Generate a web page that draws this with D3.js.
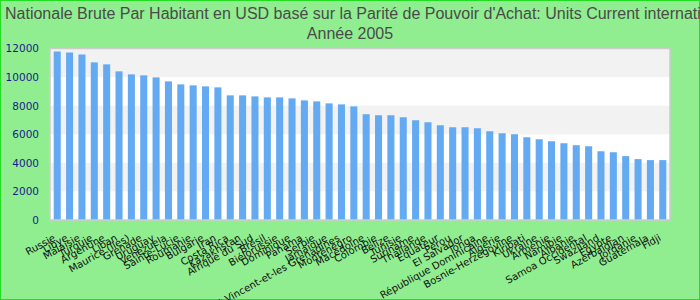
<!DOCTYPE html>
<html><head><meta charset="utf-8">
<script src="https://cdn.jsdelivr.net/npm/d3@7"></script>
<style>html,body{margin:0;padding:0;background:#90ee90;}svg{display:block;}</style>
</head><body>
<script>
const titleLines = ["Nationale Brute Par Habitant en USD basé sur la Parité de Pouvoir d'Achat: Units Current international $", "Année 2005"];
const countries = ["Russie","Libye","Malaisie","Turquie","Argentine","Liban","Maurice (Iles)","Grenade","Uruguay","Venezuela","Sainte-Lucie","Roumanie","Bulgarie","Iran","Costa Rica","Kazakhstan","Afrique du Sud","Brésil","Biélorussie","Dominique","Panama","Serbie","Jamaïque","Saint-Vincent-et-les Grenadines","Monténégro","Macédoine","Colombie","Belize","Tunisie","Suriname","Thaïlande","Equateur","Pérou","El Salvador","Tonga","République Dominicaine","Algérie","Bosnie-Herzégovine","Kiribati","Ukraine","Arménie","Namibie","Albanie","Samoa Occidental","Swaziland","Egypte","Azerbaïdjan","Jordanie","Guatemala","Fidji"];
const values = [11790,11720,11580,11030,10890,10400,10190,10120,9980,9700,9490,9420,9350,9280,8720,8720,8650,8580,8580,8510,8370,8300,8160,8090,7950,7400,7330,7330,7190,6980,6840,6630,6490,6490,6420,6210,6070,6000,5790,5650,5510,5370,5230,5160,4810,4740,4470,4260,4190,4190];
const yTicks = [0,2000,4000,6000,8000,10000,12000];

const W = 700, H = 300;
const svg = d3.select("body").append("svg").attr("width", W).attr("height", H);
svg.append("rect").attr("x",0.5).attr("y",0.5).attr("width",W-1).attr("height",H-1)
  .attr("fill","#90ee90").attr("stroke","#22dd22").attr("stroke-width",1);

const plot = {left:50, right:670, top:48.5, bottom:220};
const x = d3.scaleBand().domain(countries).range([plot.left, plot.right]).paddingInner(0.43).paddingOuter(0.3);
const y = d3.scaleLinear().domain([0,12000]).range([plot.bottom, plot.top]);

// background
svg.append("rect").attr("x",plot.left).attr("y",plot.top).attr("width",plot.right-plot.left)
  .attr("height",plot.bottom-plot.top).attr("fill","#ffffff");
const bands = d3.pairs(yTicks).filter((d,i)=> i%2===1);
svg.append("g").selectAll("rect").data(bands).join("rect")
  .attr("x",plot.left).attr("width",plot.right-plot.left)
  .attr("y",d=>y(d[1])).attr("height",d=>y(d[0])-y(d[1])).attr("fill","#f2f2f2");

// bars
svg.append("g").selectAll("rect").data(values).join("rect")
  .attr("x",(d,i)=>x(countries[i])).attr("width",x.bandwidth())
  .attr("y",d=>y(d)).attr("height",d=>y(0)-y(d)).attr("fill","#63aaf3");

// frame
svg.append("rect").attr("x",plot.left).attr("y",plot.top).attr("width",plot.right-plot.left)
  .attr("height",plot.bottom-plot.top).attr("fill","none").attr("stroke","#cccccc").attr("stroke-width",1.5);

// y axis
const yAxis = d3.axisLeft(y).tickValues(yTicks).tickSize(0).tickPadding(0).tickFormat(d3.format("d"));
const gy = svg.append("g").attr("transform",`translate(${plot.left-11},0)`).call(yAxis);
gy.select(".domain").remove();
gy.selectAll("text").attr("fill","#1a1a8f").style("font-family","'DejaVu Sans'").style("font-size","10.5px");

// x axis
const xAxis = d3.axisBottom(x).tickSize(0).tickPadding(0);
const gx = svg.append("g").attr("transform",`translate(0,${plot.bottom})`).call(xAxis);
gx.select(".domain").remove();
gx.selectAll("text").attr("fill","#111").style("font-family","'DejaVu Sans'").style("font-size","10px")
  .attr("text-anchor","end").attr("dy",null).attr("y",null)
  .attr("transform","translate(-1,20) rotate(-29)");

// title
svg.append("g").selectAll("text").data(titleLines).join("text")
  .attr("x",(d,i)=> i===0 ? 5 : W/2).attr("y",(d,i)=>18.5+i*20.5)
  .attr("text-anchor",(d,i)=> i===0 ? "start" : "middle")
  .attr("fill","#4a4a4a").style("font-family","'Liberation Sans', Arial, sans-serif").style("font-size","16px")
  .text(d=>d);
</script>
</body></html>
